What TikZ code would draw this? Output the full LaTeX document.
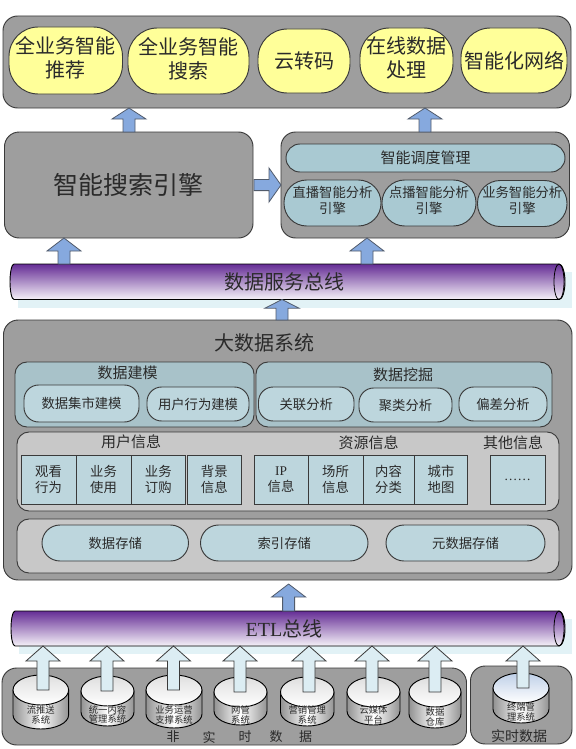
\documentclass[tikz,border=0pt]{standalone}
\usepackage{fontspec}
\setmainfont{Noto Sans CJK SC}
\newfontfamily\latinf{Liberation Serif}
\usetikzlibrary{calc}
\definecolor{panelgray}{HTML}{9E9E9E}
\definecolor{edgedark}{HTML}{3A3A3A}
\definecolor{sunny}{HTML}{FFFF99}
\definecolor{tealA}{HTML}{A9C9D2}
\definecolor{tealB}{HTML}{BDD6DD}
\definecolor{tealP}{HTML}{A8C2C9}
\definecolor{lightp}{HTML}{C8C8C8}
\definecolor{bluearrow}{HTML}{86A9DE}
\definecolor{palearrow}{HTML}{DCEDF3}
\definecolor{shadowc}{HTML}{E2F2F6}
\definecolor{purp}{HTML}{652D95}
\definecolor{inkc}{HTML}{2A2A2A}
\definecolor{cyltop}{HTML}{BFD0E8}
\newcommand\fs[2]{\fontsize{#1}{#2}\selectfont}
\tikzset{
  base/.style={draw=edgedark,line width=0.7pt,inner sep=0pt,outer sep=0pt,align=center,text=inkc},
  graypanel/.style={base,fill=panelgray,rounded corners=11pt},
  yellowpill/.style={base,fill=sunny,rounded corners=22pt,font=\fs{15}{18}},
  raised/.style={text depth=5pt},
  schedpill/.style={base,fill=tealA,rounded corners=10.5pt,font=\fs{11.25}{14}},
  enginepill/.style={base,fill=tealA,rounded corners=17pt,font=\fs{10}{12},text depth=5pt},
  modelpanel/.style={base,fill=tealP,rounded corners=9pt},
  modelpill/.style={base,fill=tealB,rounded corners=11pt,font=\fs{10}{12}},
  lightpanel/.style={base,fill=lightp,rounded corners=9pt},
  cell/.style={base,fill=tealB,font=\fs{10}{12}},
  storepill/.style={base,fill=tealB,rounded corners=13.5pt,font=\fs{10}{12}},
  label/.style={inner sep=0pt,outer sep=0pt,align=center,text=inkc},
  bluearr/.style={draw=edgedark!70!bluearrow,line width=0.6pt,fill=bluearrow},
  palearr/.style={draw=edgedark,line width=0.6pt,fill=palearrow},
}
% style, name, x1, y1, x2, y2, text
\newcommand\bx[7]{%
  \pgfmathsetmacro\wid{(#5-#3)*.75}\pgfmathsetmacro\hei{(#6-#4)*.75}%
  \node[#1,minimum width=\wid pt,minimum height=\hei pt] (#2) at ({(#3+#5)/2},{(#4+#6)/2}) {#7};}
% style, x, bottom anchor, top anchor, head length (pt)
\newcommand\upar[5]{%
  \coordinate (ux) at (#2,0);
  \draw[#1] let \p1=(ux |- #3),\p2=(ux |- #4) in
    ({\x1-4.5pt},\y1) -- ({\x1-4.5pt},{\y2-#5pt}) -- ({\x1-12.75pt},{\y2-#5pt}) -- (\x2,\y2)
    -- ({\x1+12.75pt},{\y2-#5pt}) -- ({\x1+4.5pt},{\y2-#5pt}) -- ({\x1+4.5pt},\y1) -- cycle;}
% name, x1, y1, x2, y2, text
\newcommand\bus[6]{%
  \pgfmathsetmacro\yc{(#3+#5)/2}\pgfmathsetmacro\ry{(#5-#3)/2}%
  \fill[shadowc] (#2+8,#3+8) rectangle (#4+7,#5+8);
  \shade[top color=purp,bottom color=purp!6,draw=black,line width=0.7pt]
    (#2+4,#3) arc[start angle=270,end angle=90,x radius=4,y radius=\ry] -- (#4-6,#5)
    arc[start angle=90,end angle=-90,x radius=6,y radius=\ry] -- cycle;
  \draw[black,line width=0.6pt] (#4-6,\yc) ellipse[x radius=5,y radius=\ry];
  \pgfmathsetmacro\wid{(#4-#2)*.75}\pgfmathsetmacro\hei{(#5-#3)*.75}%
  \node[label,minimum width=\wid pt,minimum height=\hei pt,font=\fs{15}{18}] (#1) at (284,\yc) {#6};}
% name, x1, y1, x2, y2, top colour, text, text y
\newcommand\cyl[8]{%
  \pgfmathsetmacro\xm{(#2+#4)/2}\pgfmathsetmacro\rx{(#4-#2)/2}%
  \pgfmathsetmacro\yt{#3+15}\pgfmathsetmacro\yb{#5-14}%
  \shade[left color=gray!85,right color=gray!85,middle color=white,draw=black,line width=0.7pt]
    (#2,\yt) -- (#2,\yb) arc[start angle=180,end angle=0,x radius=\rx,y radius=14] -- (#4,\yt) -- cycle;
  \shade[top color=#6,bottom color=white,draw=black,line width=0.7pt] (\xm,\yt) ellipse[x radius=\rx,y radius=15];
  \coordinate (#1top) at (\xm,\yt);
  \node[label,font=\fs{7}{7.2}] (#1) at (\xm,#8) {#7};}

\begin{document}
\begin{tikzpicture}[x=0.75pt,y=-0.75pt]
\useasboundingbox (0,0) rectangle (575,749);

% top band
\bx{graypanel}{app}{3}{16}{571}{108}{}
\bx{yellowpill,raised}{y1}{9}{27}{122.5}{94}{全业务智能\\推荐}
\bx{yellowpill,raised}{y2}{128}{28}{249}{94}{全业务智能\\搜索}
\bx{yellowpill}{y3}{258}{29}{350}{93}{云转码}
\bx{yellowpill,raised}{y4}{360}{28}{453}{93}{在线数据\\处理}
\bx{yellowpill}{y5}{461}{28}{567}{93}{智能化网络}

% engines
\bx{graypanel,font=\fs{18.75}{22}}{search}{4.5}{132}{253}{238}{智能搜索引擎}
\bx{graypanel}{rp}{281}{132}{569.5}{238}{}
\bx{schedpill}{sched}{286}{144}{565}{172}{智能调度管理}
\bx{enginepill}{e1}{284}{180}{381}{226}{直播智能分析\\引擎}
\bx{enginepill}{e2}{382}{180}{476}{226}{点播智能分析\\引擎}
\bx{enginepill}{e3}{477.5}{180.5}{567}{226.5}{业务智能分析\\引擎}

% data service bus
\bus{dbus}{10}{264}{565}{299.5}{数据服务总线}

% big data system
\bx{graypanel}{big}{3.5}{320}{572}{580}{}
\node[label,font=\fs{15}{18}] (bigt) at (264,342.5) {大数据系统};
\bx{modelpanel}{mp1}{15}{362}{254}{427}{}
\bx{modelpanel}{mp2}{256}{362}{552}{427}{}
\node[label,font=\fs{11.25}{14}] (mp1t) at (127.6,373) {数据建模};
\node[label,font=\fs{11.25}{14}] (mp2t) at (403,375) {数据挖掘};
\bx{modelpill}{m1}{24}{385}{139}{422}{数据集市建模}
\bx{modelpill}{m2}{147}{387}{249}{421}{用户行为建模}
\bx{modelpill}{m3}{258.5}{387}{354}{421}{关联分析}
\bx{modelpill}{m4}{359}{388}{452}{422}{聚类分析}
\bx{modelpill}{m5}{459}{387}{547}{421}{偏差分析}

\bx{lightpanel}{info}{17}{432}{559}{511}{}
\node[label,font=\fs{11.25}{14}] (i1t) at (131,442) {用户信息};
\node[label,font=\fs{11.25}{14}] (i2t) at (368.5,443) {资源信息};
\node[label,font=\fs{11.25}{14}] (i3t) at (513,443) {其他信息};
\bx{cell}{c1}{21}{455}{76}{504}{观看\\行为}
\bx{cell}{c2}{76}{455}{131}{504}{业务\\使用}
\bx{cell}{c3}{131}{455}{185.5}{504}{业务\\订购}
\bx{cell}{c4}{187}{455}{241.5}{504}{背景\\信息}
\bx{cell}{c5}{254}{455}{308}{504}{{\latinf IP}\\信息}
\bx{cell}{c6}{308}{455}{363}{504}{场所\\信息}
\bx{cell}{c7}{363}{455}{414}{504}{内容\\分类}
\bx{cell}{c8}{414.5}{455}{467.5}{504}{城市\\地图}
\bx{cell}{c9}{490}{455}{545}{504}{{\latinf ……}}

\bx{lightpanel}{store}{17}{519}{559}{573}{}
\bx{storepill}{s1}{42}{525}{188.5}{561}{数据存储}
\bx{storepill}{s2}{200.5}{525}{368}{561}{索引存储}
\bx{storepill}{s3}{386}{525}{545}{561}{元数据存储}

% ETL bus
\bus{etl}{11}{611}{565}{646}{{\latinf ETL}总线}

% sources
\bx{graypanel}{nrt}{2}{668}{466.5}{745}{}
\bx{graypanel}{rt}{470.5}{666}{572}{744}{}
\cyl{d1}{13}{675}{68.6}{729}{gray!25}{流推送\\系统}{715}
\cyl{d2}{81}{676}{134}{726}{gray!25}{统一内容\\管理系统}{714.5}
\cyl{d3}{146}{675}{202}{728}{gray!25}{业务运营\\支撑系统}{715}
\cyl{d4}{214}{677}{267}{725}{gray!25}{网管\\系统}{715}
\cyl{d5}{280.5}{677}{334}{726}{gray!25}{营销管理\\系统}{715}
\cyl{d6}{347}{677}{400}{725}{gray!25}{云媒体\\平台}{715}
\cyl{d7}{409}{677}{461}{728}{gray!25}{数据\\仓库}{717}
\cyl{d8}{493}{673}{549}{723}{cyltop}{终端管\\理系统}{712}
\node[label,font=\fs{9.75}{12}] (n1) at (173,737) {非};
\node[label,font=\fs{9.75}{12}] (n2) at (209,737) {实};
\node[label,font=\fs{9.75}{12}] (n3) at (245,737) {时};
\node[label,font=\fs{9.75}{12}] (n4) at (276,737) {数};
\node[label,font=\fs{9.75}{12}] (n5) at (305.5,737) {据};
\node[label,font=\fs{10.5}{12}] (rtt) at (519,736) {实时数据};

% block arrows
\upar{bluearr}{129}{search.north}{app.south}{8.25}
\upar{bluearr}{425}{rp.north}{app.south}{8.25}
\upar{bluearr}{64}{dbus.north}{search.south}{9.75}
\upar{bluearr}{367}{dbus.north}{rp.south}{9.75}
\upar{bluearr}{282}{big.north}{dbus.south}{6.5}
\coordinate (bigtip) at (288.6,584);
\upar{bluearr}{288.6}{etl.north}{bigtip}{9.75}
\draw[bluearr] let \p1=(search.east),\p2=(rp.west) in
  ({\x1+0.75pt},{\y1-4.2pt}) -- ({\x2-9pt},{\y1-4.2pt}) -- ({\x2-9pt},{\y1-12.75pt}) -- (\x2,\y1)
  -- ({\x2-9pt},{\y1+12.75pt}) -- ({\x2-9pt},{\y1+4.2pt}) -- ({\x1+0.75pt},{\y1+4.2pt}) -- cycle;
\upar{palearr}{43}{d1top}{etl.south}{11.25}
\upar{palearr}{107}{d2top}{etl.south}{11.25}
\upar{palearr}{173.5}{d3top}{etl.south}{11.25}
\upar{palearr}{240}{d4top}{etl.south}{11.25}
\upar{palearr}{309}{d5top}{etl.south}{11.25}
\upar{palearr}{372}{d6top}{etl.south}{11.25}
\upar{palearr}{435}{d7top}{etl.south}{11.25}
\upar{palearr}{523}{d8top}{etl.south}{11.25}
\end{tikzpicture}
\end{document}
